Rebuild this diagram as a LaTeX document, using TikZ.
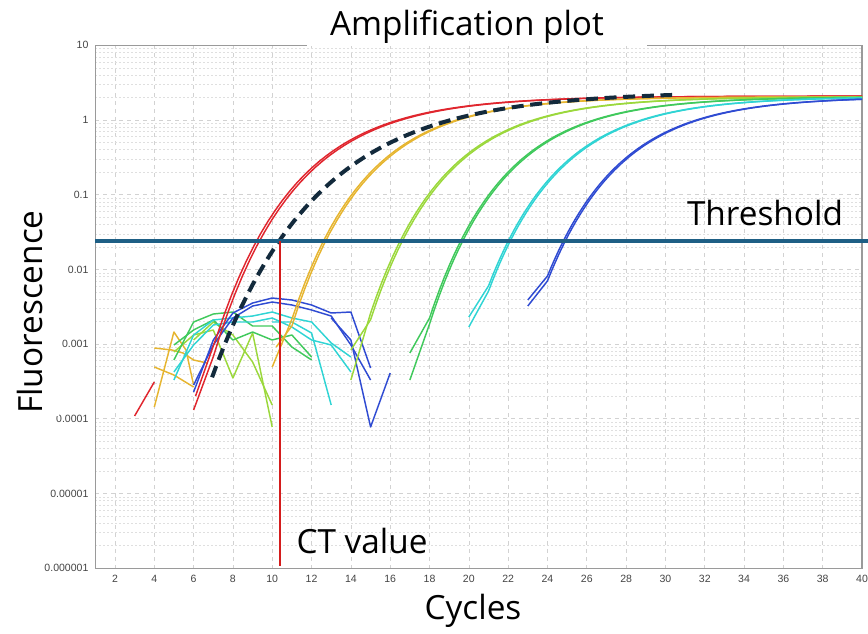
\documentclass[tikz,border=0pt]{standalone}
\usepackage{fontspec}
\setmainfont{Open Sans}
\newfontfamily\tickfont{Liberation Sans}
\definecolor{Thresh}{HTML}{1E5F85}
\definecolor{CTred}{HTML}{D41C1C}
\definecolor{DashNavy}{HTML}{132A3C}
\definecolor{Rd}{HTML}{E0262E}
\definecolor{Gold}{HTML}{E6B530}
\definecolor{YGreen}{HTML}{9BD83C}
\definecolor{Green}{HTML}{40C95C}
\definecolor{Cyan}{HTML}{30D4D4}
\definecolor{Blue}{HTML}{2F4BD2}
\definecolor{Grid}{HTML}{D2D2D2}
\definecolor{AxisGray}{HTML}{9A9A9A}
\definecolor{TickGray}{HTML}{444444}

\begin{document}
\begin{tikzpicture}[x=0.75pt,y=-0.75pt,
    declare function={cx(\c)=95.3+(\c-1)*19.66; ly(\l)=120-74.7*\l;
      amp(\c,\m,\k,\h)=\m-exp(-\k*(\c-\h));},
    curve/.style={line width=1.1pt,line join=round},
    biglabel/.style={font=\fontsize{25}{30}\selectfont,inner sep=2pt},
    tick/.style={font=\tickfont\fontsize{7.9}{9}\selectfont,text=TickGray,inner sep=1pt},
    majorgrid/.style={draw=Grid,dashed,line width=0.5pt},
    minorgrid/.style={draw=Grid!70,dash pattern=on 1.5pt off 1.5pt,line width=0.4pt}
  ]
  \useasboundingbox (0,0) rectangle (868,633);

  % grid and frame
  \foreach \c in {2,4,...,38}
    \draw[majorgrid] ({cx(\c)},45.3) -- ({cx(\c)},568.2);
  \foreach \d in {-6,...,0}
    \foreach \m in {2,...,9}
      \draw[minorgrid] (95.3,{ly(\d+log10(\m))}) -- (862,{ly(\d+log10(\m))});
  \foreach \d in {-5,...,0}
    \draw[majorgrid] (95.3,{ly(\d)}) -- (862,{ly(\d)});
  \draw[AxisGray,line width=0.8pt] (95.3,45.3) rectangle (862,568.2);

  % tick labels
  \foreach \lab/\e [count=\i] in {10/1,1/0,0.1/-1,0.01/-2,0.001/-3,0.0001/-4,0.00001/-5,0.000001/-6}
    \node[tick,anchor=east] (ylab\i) at (90,{ly(\e)}) {\lab};
  \foreach \c in {2,4,...,40}
    \node[tick] (xlab\c) at ({cx(\c)},579) {\c};

  % baseline noise
  \draw[curve,Rd] (134.6,416) -- (154.3,382);
  \draw[curve,Gold] (154.3,348) -- (172,350) -- (183,353) -- (193.6,360) -- (207,363);
  \draw[curve,Gold] (154.3,367) -- (173.9,375) -- (193.6,387);
  \draw[curve,Gold] (154.3,407) -- (173.9,332) -- (186,350) -- (193.6,385);
  \draw[curve,YGreen] (173.9,352) -- (193.6,335) -- (213.3,330) -- (232.9,378) -- (252.6,333) -- (272.2,427);
  \draw[curve,YGreen] (193.6,340) -- (213.3,322) -- (232.9,335) -- (252.6,362) -- (272.2,405);
  \draw[curve,Green] (173.9,360) -- (193.6,322) -- (213.3,314) -- (232.9,312) -- (252.6,326) -- (272.2,326) -- (291.9,347) -- (311.6,360);
  \draw[curve,Green] (173.9,345) -- (193.6,330) -- (213.3,320) -- (232.9,340) -- (252.6,332) -- (272.2,340) -- (291.9,335) -- (311.6,357);
  \draw[curve,Cyan] (173.9,380) -- (193.6,335) -- (213.3,320) -- (232.9,318) -- (252.6,316) -- (272.2,312) -- (291.9,318) -- (311.6,322) -- (331.2,343) -- (350.9,357);
  \draw[curve,Cyan] (173.9,372) -- (193.6,345) -- (213.3,325) -- (232.9,322) -- (252.6,322) -- (272.2,318) -- (291.9,327) -- (311.6,340) -- (331.2,345) -- (350.9,372);
  \draw[curve,Cyan] (272.2,322) -- (291.9,322) -- (311.6,333) -- (331.2,405);
  \draw[curve,Blue] (193.6,392) -- (213.3,340) -- (232.9,313) -- (252.6,303) -- (272.2,298) -- (291.9,300) -- (311.6,305) -- (331.2,313) -- (350.9,312) -- (370.6,368);
  \draw[curve,Blue] (193.6,385) -- (213.3,345) -- (232.9,318) -- (252.6,306) -- (272.2,302) -- (291.9,305) -- (311.6,310) -- (331.2,316) -- (350.9,345) -- (370.6,380);
  \draw[curve,Blue] (331.2,318) -- (350.9,340) -- (370.6,427) -- (390.2,373);

  % amplification curves: first cycle drawn straight, rest fitted
  \foreach \h/\s/\y/\t in {12.0/6/410/7,11.85/6.1/396/7.2}
    \draw[curve,Rd] ({cx(\s)},\y) -- plot[domain=\t:40,samples=90] ({cx(\x)},{ly(amp(\x,0.32,0.25,\h))});
  \foreach \h/\col/\s/\y/\t in {15.04/Gold/10/367/11,15.15/Gold/10.2/347/11,
      18.94/YGreen/14/380/15,19.05/YGreen/14/350/15,
      22.02/Green/17/353/18,22.12/Green/17/380/18,
      24.44/Cyan/20/317/21,24.54/Cyan/20/327/21,
      27.24/Blue/23/300/24,27.34/Blue/23/306/24}
    \draw[curve,\col] ({cx(\s)},\y) -- plot[domain=\t:40,samples=90] ({cx(\x)},{ly(amp(\x,0.31,0.27,\h))});

  % fitted dashed curve
  \draw[DashNavy,line width=3pt,dash pattern=on 9pt off 5pt]
    plot[domain=6.94:30.34,samples=80] ({cx(\x)},{ly(amp(\x,0.38,0.19,14.0))});

  % threshold and CT
  \coordinate (ct) at (280,241);
  \draw[Thresh,line width=3pt] (95.3,241) -- (868,241);
  \draw[CTred,line width=1.6pt] (ct) -- (280,566);

  % labels
  \fill[white] (307,0) rectangle (647,46);
  \node[biglabel] (title) at (467,27) {Amplification plot};
  \node[biglabel,fill=white,rotate=90,minimum height=43pt] (ylabel) at (30,312) {Fluorescence};
  \node[biglabel] (xlabel) at (473,611) {Cycles};
  \node[biglabel] (thr) at (765,213) {Threshold};
  \node[biglabel] (ctlab) at (362,541) {CT value};
\end{tikzpicture}
\end{document}
